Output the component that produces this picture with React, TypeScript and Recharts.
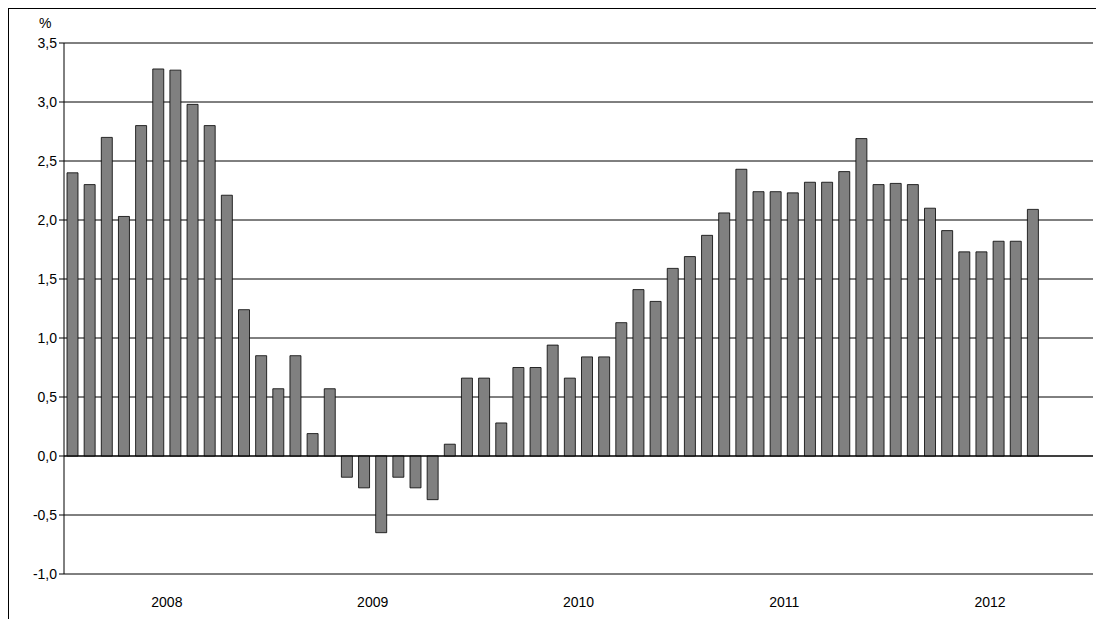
import { BarChart, Bar, XAxis, YAxis, CartesianGrid, ReferenceLine } from 'recharts';

const years = ['2008', '2009', '2010', '2011', '2012'];
const values2008 = [2.40, 2.30, 2.70, 2.03, 2.80, 3.28, 3.27, 2.98, 2.80, 2.21, 1.24, 0.85];
const values2009 = [0.57, 0.85, 0.19, 0.57, -0.18, -0.27, -0.65, -0.18, -0.27, -0.37, 0.10, 0.66];
const values2010 = [0.66, 0.28, 0.75, 0.75, 0.94, 0.66, 0.84, 0.84, 1.13, 1.41, 1.31, 1.59];
const values2011 = [1.69, 1.87, 2.06, 2.43, 2.24, 2.24, 2.23, 2.32, 2.32, 2.41, 2.69, 2.30];
const values2012 = [2.31, 2.30, 2.10, 1.91, 1.73, 1.73, 1.82, 1.82, 2.09, null, null, null];
const yTicks = [-1, -0.5, 0, 0.5, 1, 1.5, 2, 2.5, 3, 3.5];

const allValues = [values2008, values2009, values2010, values2011, values2012];
const data = allValues.flatMap((vals, yi) =>
  vals.map((v, m) => ({ key: `${years[yi]}-${m + 1}`, year: years[yi], month: m, value: v }))
);
const yearTicks = data.filter((d) => d.month === 6).map((d) => d.key);
const FONT = "'Liberation Sans', Arial, sans-serif";

const YearTick = (props: any) => {
  const { x, y, payload } = props;
  const year = payload.value.split('-')[0];
  return (
    <text x={x - 8.6} y={y + 25} textAnchor="middle" fontSize={14} fill="#000" fontFamily={FONT}>
      {year}
    </text>
  );
};

export default function App() {
  return (
    <div style={{ position: 'relative', width: 1096, height: 611, borderLeft: '1px solid #000', borderTop: '1px solid #000', boxSizing: 'border-box', fontFamily: FONT }}>
      <div style={{ position: 'absolute', left: 30, top: 6, fontSize: 14 }}>%</div>
      <BarChart width={1095} height={610} data={data} margin={{ top: 34, right: 11, bottom: 5, left: 0 }}>
        <CartesianGrid vertical={false} stroke="#000" strokeWidth={1} />
        <XAxis dataKey="key" ticks={yearTicks} tick={<YearTick />} tickLine={false} axisLine={false} interval={0} height={40} />
        <YAxis
          domain={[-1, 3.5]}
          ticks={yTicks}
          width={55}
          tickFormatter={(v: number) => v.toFixed(1).replace('.', ',')}
          tick={{ fill: '#000', fontSize: 14, fontFamily: FONT }}
          stroke="#000"
          tickSize={5}
        />
        <ReferenceLine y={0} stroke="#000" />
        <Bar dataKey="value" barSize={11} fill="#808080" stroke="#000" strokeWidth={0.8} isAnimationActive={false} />
      </BarChart>
    </div>
  );
}
